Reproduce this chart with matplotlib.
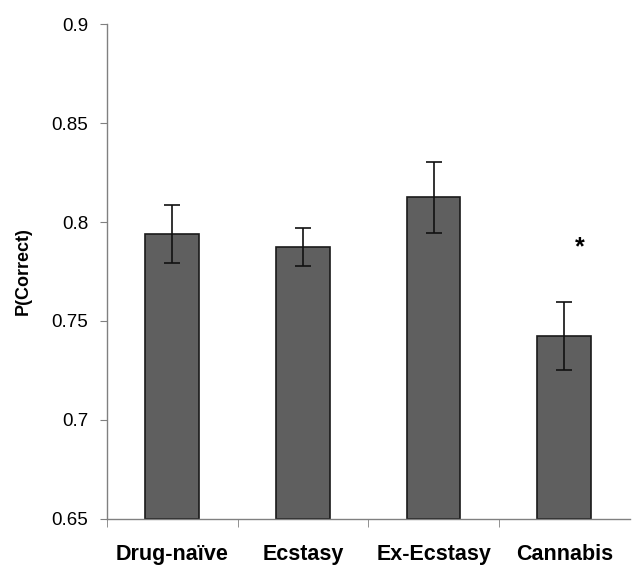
import matplotlib.pyplot as plt
import numpy as np

groups = ["Drug-naïve", "Ecstasy", "Ex-Ecstasy", "Cannabis"]
p_correct = [0.794, 0.7875, 0.8125, 0.7425]
sem = [0.0148, 0.0095, 0.018, 0.017]
yticks = [0.65, 0.7, 0.75, 0.8, 0.85, 0.9]
ytick_labels = ["0.65", "0.7", "0.75", "0.8", "0.85", "0.9"]

plt.rcParams['font.family'] = ['Liberation Sans', 'DejaVu Sans']

fig = plt.figure(figsize=(6.36, 5.68), dpi=100)
ax = fig.add_axes([0.168, 0.0863, 0.822, 0.8714])

xs = np.arange(len(groups))
ax.bar(xs, np.array(p_correct) - 0.65, bottom=0.65, width=0.41,
       color='#5f5f5f', edgecolor='#1a1a1a', linewidth=1.2, zorder=2)
ax.errorbar(xs, p_correct, yerr=sem, fmt='none', ecolor='#111111',
            elinewidth=1.2, capsize=6, capthick=1.2, zorder=3)
# significance marker above the cannabis group
ax.text(xs[3] + 0.12, 0.787, "*", ha='center', va='center', fontsize=18,
        fontweight='bold')

ax.set_xlim(-0.5, 3.5)
ax.set_ylim(0.65, 0.9)
ax.set_yticks(yticks)
ax.set_yticklabels(ytick_labels, fontsize=13.5)
ax.set_xticks(xs)
ax.set_xticklabels(groups, fontsize=15.5, fontweight='bold')
ax.tick_params(axis='x', which='major', length=0, pad=18)
ax.set_xticks([-0.5, 0.5, 1.5, 2.5], minor=True)
ax.tick_params(axis='x', which='minor', length=6, color='#808080',
               direction='out')
ax.tick_params(axis='y', length=5, color='#808080', direction='out', pad=8.5)
ax.set_ylabel("P(Correct)", fontsize=13, fontweight='bold', labelpad=14)

for s in ('top', 'right'):
  ax.spines[s].set_visible(False)
for s in ('left', 'bottom'):
  ax.spines[s].set_color('#808080')
  ax.spines[s].set_linewidth(1.0)

fig.savefig("out.png", dpi=100)
